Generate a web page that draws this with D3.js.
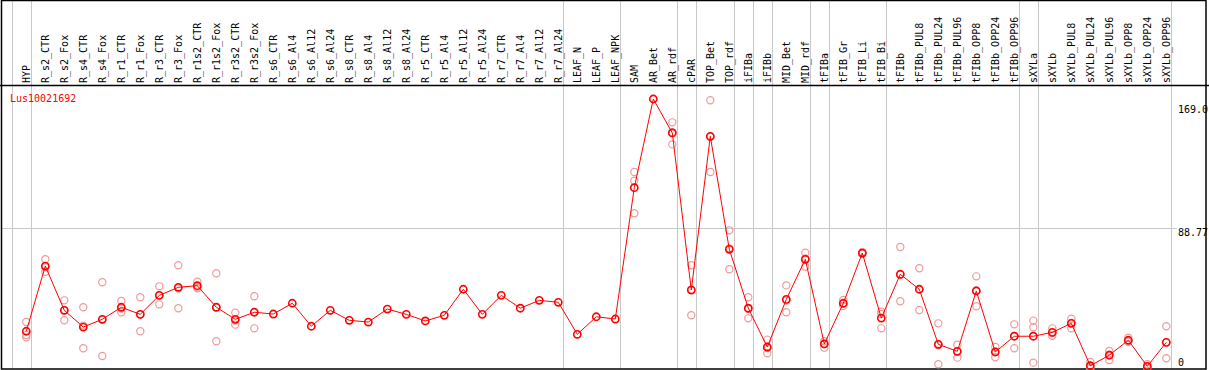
<!DOCTYPE html>
<html lang="en">
  <head>
    <meta charset="UTF-8" />
    <title>Lus10021692 expression</title>
    <script src="https://cdn.jsdelivr.net/npm/d3@7"></script>
    <style>
      body { margin: 0; background: #fff; }
      text { font-family: "DejaVu Sans Mono", monospace; font-size: 10px; }
    </style>
  </head>
  <body>
    <svg width="1209" height="370"></svg>
    <script>
      // sample names, left to right
      const categories = [
        "HYP", "R_s2_CTR", "R_s2_Fox", "R_s4_CTR", "R_s4_Fox", "R_r1_CTR", "R_r1_Fox",
        "R_r3_CTR", "R_r3_Fox", "R_r1s2_CTR", "R_r1s2_Fox", "R_r3s2_CTR", "R_r3s2_Fox",
        "R_s6_CTR", "R_s6_Al4", "R_s6_Al12", "R_s6_Al24", "R_s8_CTR", "R_s8_Al4",
        "R_s8_Al12", "R_s8_Al24", "R_r5_CTR", "R_r5_Al4", "R_r5_Al12", "R_r5_Al24",
        "R_r7_CTR", "R_r7_Al4", "R_r7_Al12", "R_r7_Al24", "LEAF_N", "LEAF_P", "LEAF_NPK",
        "SAM", "AR_Bet", "AR_rdf", "cPAR", "TOP_Bet", "TOP_rdf", "iFIBa", "iFIBb",
        "MID_Bet", "MID_rdf", "tFIBa", "tFIB_Gr", "tFIB_Li", "tFIB_Bi", "tFIBb",
        "tFIBb_PUL8", "tFIBb_PUL24", "tFIBb_PUL96", "tFIBb_OPP8", "tFIBb_OPP24",
        "tFIBb_OPP96", "sXYLa", "sXYLb", "sXYLb_PUL8", "sXYLb_PUL24", "sXYLb_PUL96",
        "sXYLb_OPP8", "sXYLb_OPP24", "sXYLb_OPP96"
      ];

      // number of samples in each tissue group (separated by grey lines)
      const groupSizes = [1, 28, 3, 3, 1, 2, 1, 1, 2, 1, 3, 7, 1, 7];

      // mean expression per sample
      const means = [
        24.7, 65.2, 37.7, 27.3, 32.1, 39.6, 35.2, 47.0, 52.0, 53.0, 39.6, 32.1, 36.5,
        35.4, 42.1, 27.8, 37.7, 31.5, 30.4, 38.5, 35.2, 31.1, 34.6, 50.8, 35.2,
        47.0, 39.0, 43.9, 42.7, 22.8, 33.7, 32.3,
        113.9, 169.0, 147.9, 50.3, 145.8, 75.6, 39.0, 14.9, 44.5, 69.4,
        16.8, 42.1, 73.3, 32.9, 60.1, 50.8, 16.6, 12.2, 49.7, 11.8, 21.6,
        21.6, 24.0, 29.6, 3.3, 9.8, 19.1, 2.9, 17.8
      ];

      // individual replicates (empty where only one value was measured)
      const replicates = [
        [30.4, 22.4, 20.9], [69.4, 64.5, 61.7], [43.9, 37.7, 31.5], [39.6, 28.2, 14.1],
        [55.1, 31.9, 9.3], [43.5, 38.8, 36.5], [45.8, 35.1, 24.7], [52.6, 47.0, 41.4],
        [65.7, 51.3, 39.0], [55.5, 52.0, 51.4], [60.7, 39.6, 18.5], [36.2, 31.4, 28.8],
        [46.4, 36.6, 26.5],
        [], [], [], [], [], [], [], [], [], [], [], [], [], [], [], [], [], [], [],
        [123.6, 118.2, 98.0], [], [154.5, 148.4, 140.8], [65.7, 50.6, 34.6],
        [168.2, 145.6, 123.6], [87.4, 76.2, 63.2], [45.8, 38.5, 32.7], [19.5, 14.2, 11.0],
        [53.2, 43.8, 36.5], [73.5, 69.9, 64.8],
        [18.5, 16.8, 14.5], [44.1, 41.8, 40.4], [74.0, 73.0, 73.0], [36.8, 35.4, 26.5],
        [77.0, 60.0, 43.3], [63.8, 50.7, 37.9], [29.6, 16.0, 4.2], [16.3, 12.0, 8.3],
        [58.8, 50.1, 40.2], [14.9, 12.0, 8.5], [29.0, 21.7, 14.1],
        [31.3, 27.2, 5.2], [26.5, 23.6, 21.9], [32.5, 29.8, 26.5], [5.6, 2.5, 1.8],
        [12.4, 10.2, 6.8], [20.7, 18.5, 18.1], [4.2, 2.5, 2.0], [27.8, 17.8, 7.9]
      ];

      const tickValues = [169.0, 88.77, 0];
      const tickLabels = ["169.0", "88.77", "0"];
      const geneName = "Lus10021692";

      const W = 1209, H = 370;
      const frameRight = 1206, frameBottom = 369, headerY = 85;

      let svg = d3.select("svg");

      const x = d3.scalePoint().domain(categories).range([26.3, 1166.3]);
      const y = d3.scaleLinear().domain([0, 169]).range([371, 99]);
      const step = x.step();

      // group separator lines
      let ends = [-1];
      groupSizes.forEach(function (s) { ends.push(ends[ends.length - 1] + s); });
      svg.append("g")
        .selectAll("line")
        .data(ends)
        .enter()
        .append("line")
        .attr("x1", d => Math.round(x(categories[0]) + d * step + 4.4) + 0.5)
        .attr("x2", d => Math.round(x(categories[0]) + d * step + 4.4) + 0.5)
        .attr("y1", 0)
        .attr("y2", frameBottom)
        .attr("stroke", "#c8c8c8")
        .attr("stroke-width", 1);

      // middle gridline
      svg.append("line")
        .attr("x1", 1)
        .attr("x2", 1177)
        .attr("y1", Math.round(y(tickValues[1])) + 0.5)
        .attr("y2", Math.round(y(tickValues[1])) + 0.5)
        .attr("stroke", "#c8c8c8");

      // frame + header rule
      svg.append("rect")
        .attr("x", 1.5).attr("y", 0.5)
        .attr("width", frameRight - 1.5).attr("height", frameBottom - 0.5)
        .attr("fill", "none").attr("stroke", "#000").attr("stroke-width", 1.5);
      svg.append("line")
        .attr("x1", 0).attr("x2", W)
        .attr("y1", headerY + 0.5).attr("y2", headerY + 0.5)
        .attr("stroke", "#000").attr("stroke-width", 1.5);

      // rotated sample labels
      svg.append("g")
        .selectAll("text")
        .data(categories)
        .enter()
        .append("text")
        .attr("transform", d => `translate(${x(d) + 3.5},${headerY - 2}) rotate(-90)`)
        .attr("fill", "#000")
        .text(d => d);

      // gene name
      svg.append("text")
        .attr("x", 10).attr("y", 102)
        .attr("fill", "#ff0000")
        .text(geneName);

      // right-hand value labels
      svg.append("g")
        .selectAll("text")
        .data(tickValues)
        .enter()
        .append("text")
        .attr("x", 1178)
        .attr("y", d => Math.max(113, Math.min(366, y(d) + 8)))
        .attr("fill", "#000")
        .text((d, i) => tickLabels[i]);

      // replicate circles
      let reps = [];
      replicates.forEach(function (r, i) {
        r.forEach(function (v) { reps.push({ c: categories[i], v: v }); });
      });
      svg.append("g")
        .selectAll("circle")
        .data(reps)
        .enter()
        .append("circle")
        .attr("cx", d => x(d.c))
        .attr("cy", d => y(d.v))
        .attr("r", 3.6)
        .attr("fill", "none")
        .attr("stroke", "#ef9a9a")
        .attr("stroke-width", 1.2);

      // mean line
      const line = d3.line()
        .x((d, i) => x(categories[i]))
        .y(d => y(d));
      svg.append("path")
        .datum(means)
        .attr("d", line)
        .attr("fill", "none")
        .attr("stroke", "#ff0000")
        .attr("stroke-width", 1);

      // mean circles
      svg.append("g")
        .selectAll("circle")
        .data(means)
        .enter()
        .append("circle")
        .attr("cx", (d, i) => x(categories[i]))
        .attr("cy", d => y(d))
        .attr("r", 3.6)
        .attr("fill", "none")
        .attr("stroke", "#ff0000")
        .attr("stroke-width", 1.6);
    </script>
  </body>
</html>
